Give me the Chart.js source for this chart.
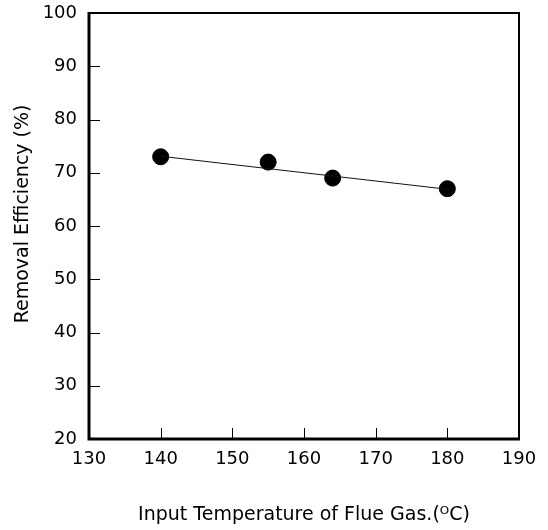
<!DOCTYPE html>
<html>
<head>
<meta charset="utf-8">
<script src="https://cdn.jsdelivr.net/npm/chart.js@4/dist/chart.umd.min.js"></script>
<style>
  body { margin: 0; background: #fff; }
  #wrap { width: 548px; height: 530px; }
</style>
</head>
<body>
<div id="wrap"><canvas id="chart" width="548" height="530"></canvas></div>
<script>
// measured points
var temps = [140, 155, 164, 180];
var efficiency = [73, 72, 69, 67];
var fitTemps = [140, 180];
var fitEff = [73.1, 66.9];

var xRange = [130, 190];
var yRange = [20, 100];

var fontFamily = "'DejaVu Sans', 'Liberation Sans', Arial, sans-serif";

function toXY(xs, ys) {
  return xs.map(function(x, i) { return { x: x, y: ys[i] }; });
}

// box round the plot and the short inward tick marks
var frame = {
  id: 'frame',
  beforeDatasetsDraw: function(chart) {
    var ctx = chart.ctx;
    var a = chart.chartArea;
    var xs = chart.scales.x;
    var ys = chart.scales.y;
    ctx.save();
    ctx.strokeStyle = '#000';
    ctx.lineWidth = 1;
    ctx.beginPath();
    ys.ticks.forEach(function(t) {
      if (t.value <= yRange[0] || t.value >= yRange[1]) return;
      var py = Math.round(ys.getPixelForValue(t.value)) + 0.5;
      ctx.moveTo(a.left, py);
      ctx.lineTo(a.left + 11, py);
    });
    xs.ticks.forEach(function(t) {
      if (t.value <= xRange[0] || t.value >= xRange[1]) return;
      var px = Math.round(xs.getPixelForValue(t.value)) + 0.5;
      ctx.moveTo(px, a.bottom);
      ctx.lineTo(px, a.bottom - 11);
    });
    ctx.stroke();

    ctx.lineWidth = 2;
    ctx.beginPath();
    ctx.moveTo(a.left, a.top);
    ctx.lineTo(a.right, a.top);
    ctx.lineTo(a.right, a.bottom);
    ctx.stroke();

    ctx.lineWidth = 3;
    ctx.beginPath();
    ctx.moveTo(a.left, a.top - 1);
    ctx.lineTo(a.left, a.bottom);
    ctx.lineTo(a.right + 1, a.bottom);
    ctx.stroke();
    ctx.restore();
  }
};

new Chart(document.getElementById('chart'), {
  type: 'scatter',
  data: {
    datasets: [
      {
        label: 'fit',
        data: toXY(fitTemps, fitEff),
        showLine: true,
        borderColor: '#111',
        borderWidth: 1,
        pointRadius: 0,
        fill: false
      },
      {
        label: 'Removal efficiency',
        data: toXY(temps, efficiency),
        backgroundColor: '#000',
        borderColor: '#000',
        pointRadius: 8,
        pointHoverRadius: 8
      }
    ]
  },
  options: {
    responsive: false,
    animation: false,
    events: [],
    layout: {
      padding: { left: 0, right: 29, top: 13, bottom: 0 }
    },
    plugins: {
      legend: { display: false },
      tooltip: { enabled: false }
    },
    scales: {
      x: {
        type: 'linear',
        min: xRange[0],
        max: xRange[1],
        grid: { display: false, drawTicks: false },
        border: { display: false },
        ticks: {
          stepSize: 10,
          color: '#000',
          padding: 10,
          maxRotation: 0,
          font: { family: fontFamily, size: 18 }
        },
        title: {
          display: true,
          text: 'Input Temperature of Flue Gas.(\u1D3CC)',
          color: '#000',
          padding: { top: 0, bottom: 4 },
          font: { family: fontFamily, size: 19 }
        },
        afterFit: function(scale) {
          scale.height = 91;
          scale.paddingLeft = 0;
          scale.paddingRight = 0;
        }
      },
      y: {
        type: 'linear',
        min: yRange[0],
        max: yRange[1],
        grid: { display: false, drawTicks: false },
        border: { display: false },
        ticks: {
          stepSize: 10,
          color: '#000',
          padding: 12,
          font: { family: fontFamily, size: 18 }
        },
        title: {
          display: true,
          // leading spaces nudge the label up a little, as in the source
          text: '\u00A0\u00A0\u00A0\u00A0Removal Efficiency (%)',
          color: '#000',
          padding: { top: 12, bottom: 0 },
          font: { family: fontFamily, size: 19 }
        },
        afterFit: function(scale) {
          scale.width = 89;
          scale.paddingTop = 0;
          scale.paddingBottom = 0;
        }
      }
    }
  },
  plugins: [frame]
});
</script>
</body>
</html>
